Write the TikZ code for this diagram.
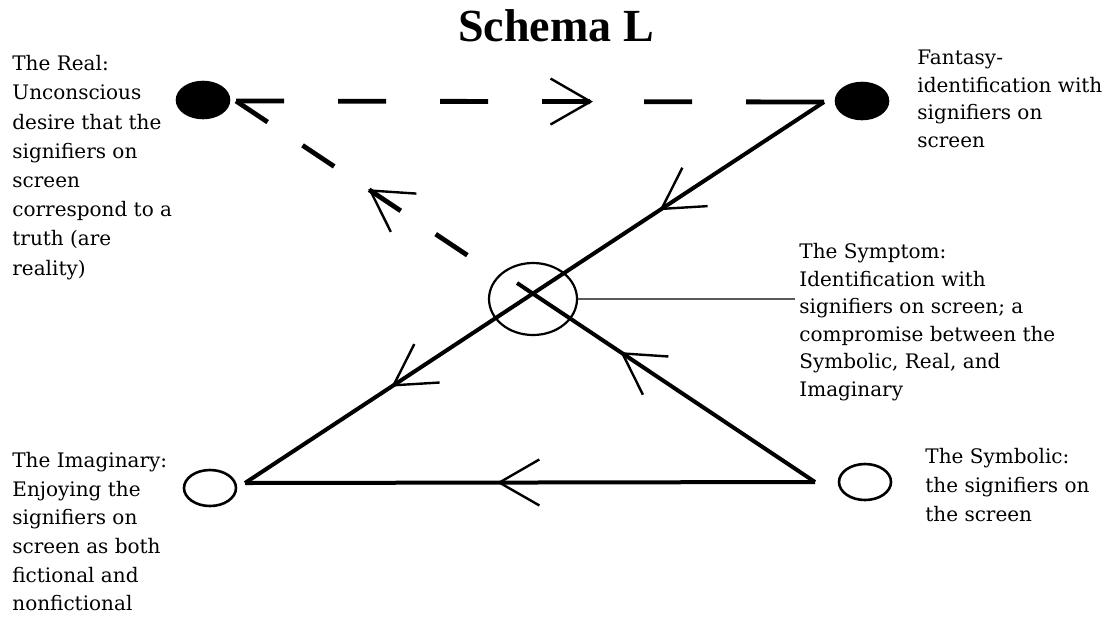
\documentclass[tikz,border=0pt]{standalone}
\usepackage{fontspec}
\setmainfont{DejaVu Serif}
\newfontfamily\titlefont{Liberation Serif}
\usetikzlibrary{arrows.meta,decorations.markings,shapes.geometric}
\tikzset{
	barb/.tip={Straight Barb[length=20pt,width=23pt,line width=1.2pt]},
	midarrows/.style={postaction={decorate,decoration={markings,#1}}},
	solidline/.style={line width=2pt},
	dashline/.style={line width=2.4pt,dash pattern=on 24pt off 27pt},
	dot/.style={ellipse,draw,line width=1.3pt,minimum width=26pt,minimum height=18pt,inner sep=0pt},
	txt/.style={anchor=north west,inner sep=0pt,align=left},
}
\begin{document}
\begin{tikzpicture}[x=0.5pt,y=-0.5pt]
	\useasboundingbox (0,0) rectangle (1107,617);
	%title
	\node[font=\titlefont\bfseries\fontsize{23}{26}\selectfont] (title) at (556,26) {Schema L};
	%dots
	\node[dot,fill=black] (real) at (203,100) {};
	\node[dot,fill=black] (fantasy) at (862,101) {};
	\node[dot] (imag) at (210,488) {};
	\node[dot] (symb) at (865,482) {};
	\node[ellipse,draw,line width=1.1pt,minimum width=44pt,minimum height=36pt] (symptom) at (533,299) {};
	%corners
	\coordinate (R) at (236,101);
	\coordinate (F) at (824,102);
	\coordinate (I) at (245,483);
	\coordinate (S) at (815,482);
	\coordinate (X) at (517,283);
	\coordinate (lead) at (795,299);
	%lines
	\draw[dashline,dash pattern=on 24pt off 27pt on 24pt off 27pt on 24pt off 27pt
		on 24pt off 27pt on 24pt off 27pt on 40pt off 10pt,
		midarrows={mark=at position 0.607 with {\arrow{barb}}}] (R) -- (F);
	\draw[dashline,dash pattern=on 19pt off 21pt,
		midarrows={mark=at position 0.505 with {\arrowreversed{barb}}}] (R) -- (symptom);
	\draw[solidline,midarrows={mark=at position 0.284 with {\arrow{barb}},
		mark=at position 0.747 with {\arrow{barb}}}] (F) -- (I);
	\draw[solidline,midarrows={mark=at position 0.558 with {\arrow{barb}}}] (S) -- (I);
	\draw[solidline,midarrows={mark=at position 0.653 with {\arrow{barb}}}] (S) -- (X);
	\draw[gray!70!black,line width=0.7pt] (symptom.east) -- (lead);
	%labels
	\node[txt,font=\fontsize{10}{14.6}\selectfont] (realtxt) at (12,55)
	{The Real:\\ Unconscious\\ desire that the\\ signifiers on\\ screen\\ correspond to a\\ truth (are\\ reality)};
	\node[txt,font=\fontsize{10}{13.7}\selectfont] (fantasytxt) at (917,50)
	{Fantasy-\\ identification with\\ signifiers on\\ screen};
	\node[txt,font=\fontsize{10}{13.75}\selectfont] (symptomtxt) at (799,243)
	{The Symptom:\\ Identification with\\ signifiers on screen; a\\ compromise between the\\ Symbolic, Real, and\\ Imaginary};
	\node[txt,font=\fontsize{10}{14.3}\selectfont] (imagtxt) at (12,452)
	{The Imaginary:\\ Enjoying the\\ signifiers on\\ screen as both\\ fictional and\\ nonfictional};
	\node[txt,font=\fontsize{10}{14.5}\selectfont] (symbtxt) at (925,448)
	{The Symbolic:\\ the signifiers on\\ the screen};
\end{tikzpicture}
\end{document}
